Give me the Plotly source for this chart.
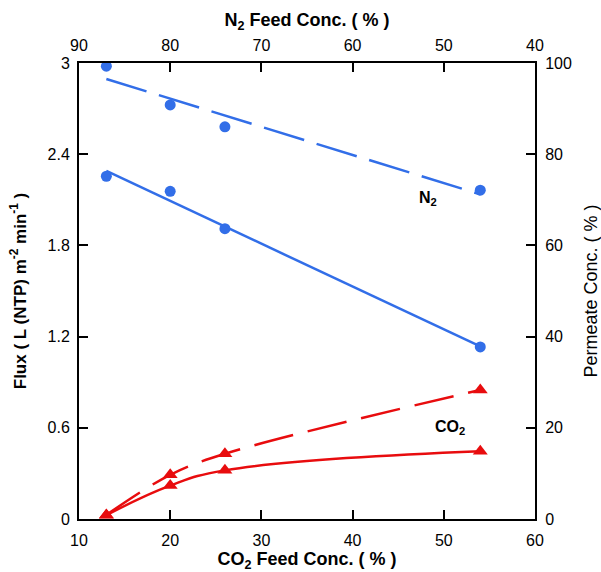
import plotly.graph_objects as go

# CO2 feed concentration (%) - bottom axis
co2_feed = [13, 20, 26, 54]
# N2 feed concentration (%) - top axis
n2_feed = [87, 80, 74, 46]

# N2 flux (L(NTP) m^-2 min^-1) - circles, solid
n2_flux = [2.255, 2.156, 1.91, 1.132]
# N2 permeate concentration (%) - circles, dashed
n2_perm = [99.3, 90.8, 86.0, 72.1]
# CO2 flux - triangles, solid
co2_flux = [0.025, 0.22, 0.32, 0.445]
# CO2 permeate concentration (%) - triangles, dashed
co2_perm = [0.9, 9.7, 14.3, 28.3]

# trend lines (end points)
fit_x = [13, 54]
n2_flux_fit = [2.29, 1.135]
n2_perm_fit = [96.5, 71.2]

BLUE = "rgb(50,110,232)"
RED = "rgb(232,12,14)"
FONT = "Liberation Sans, Arial, sans-serif"

fig = go.Figure()

# blue fit lines
fig.add_trace(go.Scatter(x=fit_x, y=n2_flux_fit, mode="lines",
                         line=dict(color=BLUE, width=2.5), showlegend=False, hoverinfo="skip"))
fig.add_trace(go.Scatter(x=fit_x, y=n2_perm_fit, mode="lines", yaxis="y2",
                         line=dict(color=BLUE, width=2.5, dash="42px,13px"),
                         showlegend=False, hoverinfo="skip"))
# blue markers
fig.add_trace(go.Scatter(x=co2_feed, y=n2_flux, mode="markers",
                         marker=dict(color=BLUE, size=11, symbol="circle"), showlegend=False))
fig.add_trace(go.Scatter(x=co2_feed, y=n2_perm, mode="markers", yaxis="y2",
                         marker=dict(color=BLUE, size=11, symbol="circle"), showlegend=False))

# red curves
fig.add_trace(go.Scatter(x=co2_feed, y=co2_flux, mode="lines+markers",
                         line=dict(color=RED, width=2.5, shape="spline", smoothing=1.2),
                         marker=dict(color=RED, size=13, symbol="triangle-up"), showlegend=False))
fig.add_trace(go.Scatter(x=co2_feed, y=co2_perm, mode="lines+markers", yaxis="y2",
                         line=dict(color=RED, width=2.5, shape="spline", smoothing=1.0, dash="40px,15px"),
                         marker=dict(color=RED, size=13, symbol="triangle-up"), showlegend=False))

# invisible trace to anchor the top axis (N2 feed)
fig.add_trace(go.Scatter(x=n2_feed, y=n2_flux, xaxis="x2", mode="markers",
                         marker=dict(opacity=0), showlegend=False, hoverinfo="skip"))

axis_common = dict(showline=True, linecolor="black", linewidth=2, ticks="inside",
                   ticklen=9, tickwidth=2, tickcolor="black", showgrid=False, zeroline=False,
                   automargin=False,
                   tickfont=dict(family=FONT, size=16, color="black"))

fig.update_layout(
    width=601, height=572,
    margin=dict(l=79, r=66, t=63, b=53, autoexpand=False),
    plot_bgcolor="white", paper_bgcolor="white",
    font=dict(family=FONT, color="black"),
    xaxis=dict(range=[10, 60], tickvals=[10, 20, 30, 40, 50, 60], ticklabelstandoff=6,
               title=dict(text="<b>CO<sub>2</sub> Feed Conc. ( % )</b>", font=dict(size=18), standoff=15),
               **axis_common),
    xaxis2=dict(range=[90, 40], overlaying="x", side="top", anchor="y", ticklabelstandoff=4,
                tickvals=[90, 80, 70, 60, 50, 40],
                title=dict(text="<b>N<sub>2</sub> Feed Conc. ( % )</b>", font=dict(size=18), standoff=5),
                **axis_common),
    yaxis=dict(range=[0, 3], tickvals=[0, 0.6, 1.2, 1.8, 2.4, 3],
               ticktext=["0", "0.6", "1.2", "1.8", "2.4", "3"], ticklabelstandoff=4,
               title=dict(text="<b>Flux ( L (NTP) m<sup>-2</sup> min<sup>-1</sup> )</b>",
                          font=dict(size=17), standoff=17),
               **axis_common),
    yaxis2=dict(range=[0, 100], overlaying="y", side="right", anchor="x",
                tickvals=[0, 20, 40, 60, 80, 100], ticklabelstandoff=5,
                title=dict(text="Permeate Conc. ( % )", font=dict(size=18), standoff=15),
                **axis_common),
    annotations=[
        dict(x=48.3, y=2.11, xref="x", yref="y", text="<b>N<sub>2</sub></b>", showarrow=False,
             font=dict(family=FONT, size=16, color="black")),
        dict(x=50.7, y=0.6, xref="x", yref="y", text="<b>CO<sub>2</sub></b>", showarrow=False,
             font=dict(family=FONT, size=16, color="black")),
    ],
)

fig.write_html("out.html")
